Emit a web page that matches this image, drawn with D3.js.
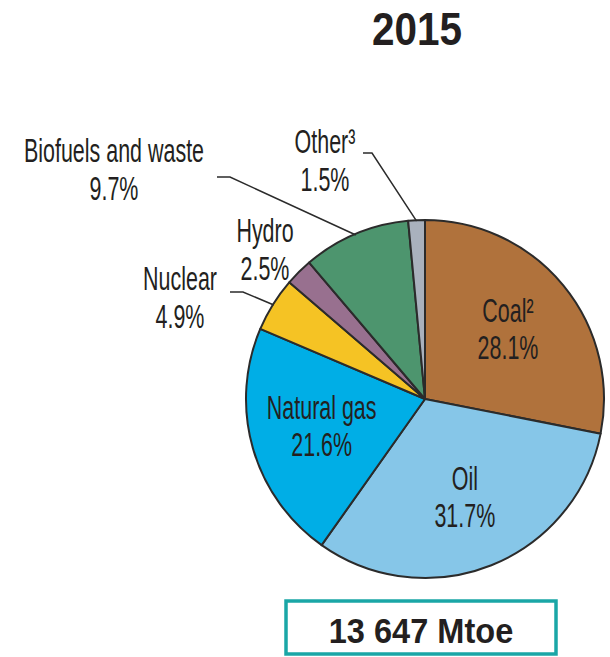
<!DOCTYPE html>
<html>
<head>
<meta charset="utf-8">
<script src="https://cdn.jsdelivr.net/npm/d3@7"></script>
<style>
  body { margin: 0; background: #ffffff; }
  text { font-family: "Liberation Sans", Arial, sans-serif; fill: #231f20; }
</style>
</head>
<body>
<div id="chart"></div>
<script>
// data, clockwise from 12 o'clock
var categories = ['Coal²', 'Oil', 'Natural gas', 'Nuclear', 'Hydro', 'Biofuels and waste', 'Other³'];
var shares = [28.1, 31.7, 21.6, 4.9, 2.5, 9.7, 1.5];
var colors = ['#b0723c', '#86c6e8', '#00aee6', '#f5c324', '#98708f', '#4d956e', '#a9b1bd'];
var titleText = '2015';
var totalText = '13 647 Mtoe';

var width = 610,
  height = 657,
  cx = 425,
  cy = 399,
  radius = 179,
  squeeze = 0.65;

// labels that sit outside the pie: label anchor + leader elbow
var outside = {
  'Biofuels and waste': { x: 114, y: 162, line: [217, 177, 230, 177] },
  'Other³': { x: 325, y: 153, line: [363, 153, 372, 153] },
  'Hydro': { x: 265, y: 242, line: null },
  'Nuclear': { x: 180, y: 290, line: [230, 292, 243, 292] }
};

var data = categories.map(function(c, i) {
  return { name: c, value: shares[i], color: colors[i] };
});

var svg = d3.select('#chart').append('svg')
  .attr('width', width)
  .attr('height', height)
  .style('background', '#ffffff');

svg.append('text')
  .attr('transform', 'translate(417, 45) scale(0.88, 1)')
  .attr('text-anchor', 'middle')
  .style('font-size', '46px')
  .style('font-weight', 'bold')
  .text(titleText);

var pie = d3.pie()
  .sort(null)
  .value(function(d) { return d.value; });

var arc = d3.arc().innerRadius(0).outerRadius(radius);
var labelArc = d3.arc().innerRadius(radius * 0.6).outerRadius(radius * 0.6);
var edgeArc = d3.arc().innerRadius(radius - 1).outerRadius(radius - 1);

var arcs = pie(data);

var g = svg.append('g')
  .attr('transform', 'translate(' + cx + ', ' + cy + ')');

g.selectAll('path').data(arcs)
  .enter().append('path')
  .attr('d', arc)
  .style('fill', function(d) { return d.data.color; })
  .style('stroke', '#2b2b2b')
  .style('stroke-width', 2)
  .style('stroke-linejoin', 'round');

function twoLines(parent, x, y, name, value, dy1, dy2) {
  var t = parent.append('g')
    .attr('transform', 'translate(' + x + ', ' + y + ') scale(' + squeeze + ', 1)');
  t.append('text')
    .attr('text-anchor', 'middle')
    .attr('y', dy1)
    .style('font-size', '33px')
    .text(name);
  t.append('text')
    .attr('text-anchor', 'middle')
    .attr('y', dy2)
    .style('font-size', '33px')
    .text(value.toFixed(1) + '%');
}

arcs.forEach(function(d) {
  var o = outside[d.data.name];
  if (!o) {
    var c = labelArc.centroid(d);
    twoLines(g, c[0], c[1], d.data.name, d.data.value, -9, 28);
  } else {
    twoLines(svg, o.x, o.y, d.data.name, d.data.value, 0, 38);
    if (o.line) {
      var e = edgeArc.centroid(d);
      svg.append('polyline')
        .attr('points', [o.line[0], o.line[1], o.line[2], o.line[3], cx + e[0], cy + e[1]].join(' '))
        .style('fill', 'none')
        .style('stroke', '#2b2b2b')
        .style('stroke-width', 1.5);
    }
  }
});

// total box
svg.append('rect')
  .attr('x', 286)
  .attr('y', 601)
  .attr('width', 270)
  .attr('height', 53)
  .style('fill', '#ffffff')
  .style('stroke', '#1aa6a6')
  .style('stroke-width', 3.5);

svg.append('text')
  .attr('transform', 'translate(421, 643) scale(0.93, 1)')
  .attr('text-anchor', 'middle')
  .style('font-size', '35px')
  .style('font-weight', 'bold')
  .text(totalText);
</script>
</body>
</html>
